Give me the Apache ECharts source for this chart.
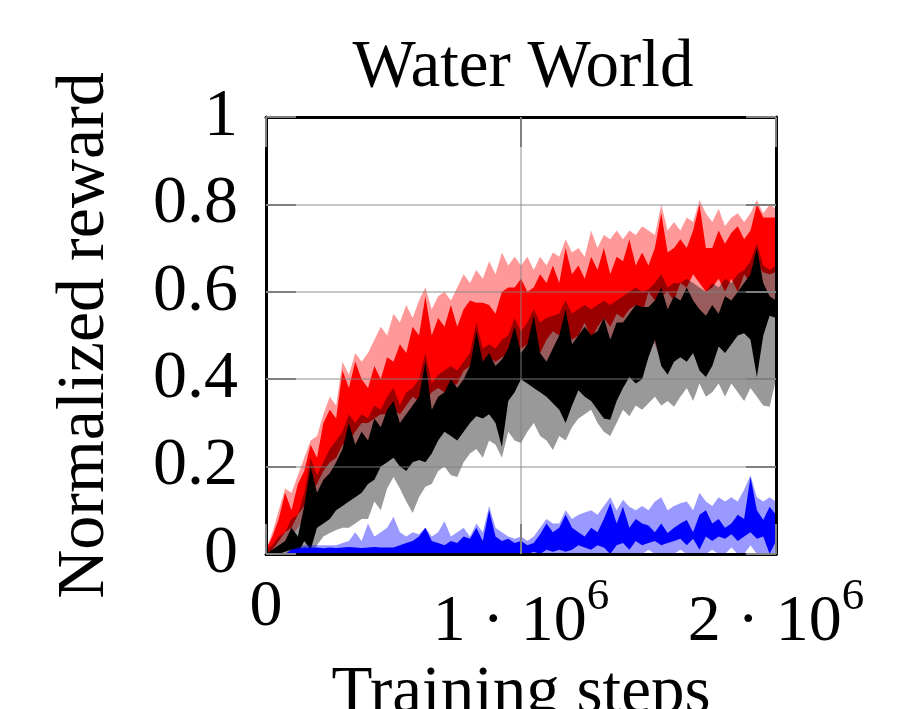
<!DOCTYPE html>
<html>
<head>
<meta charset="utf-8">
<script src="https://cdn.jsdelivr.net/npm/echarts@6/dist/echarts.min.js"></script>
<style>
html,body{margin:0;padding:0;background:#fff;}
#chart{width:907px;height:709px;}
</style>
</head>
<body>
<div id="chart"></div>
<script>
// ---- data ----
const steps = [0,25000,50000,75000,100000,125000,150000,175000,200000,225000,250000,275000,300000,325000,350000,375000,400000,425000,450000,475000,500000,525000,550000,575000,600000,625000,650000,675000,700000,725000,750000,775000,800000,825000,850000,875000,900000,925000,950000,975000,1000000,1025000,1050000,1075000,1100000,1125000,1150000,1175000,1200000,1225000,1250000,1275000,1300000,1325000,1350000,1375000,1400000,1425000,1450000,1475000,1500000,1525000,1550000,1575000,1600000,1625000,1650000,1675000,1700000,1725000,1750000,1775000,1800000,1825000,1850000,1875000,1900000,1925000,1950000,1975000,2000000];

// red method: outer range (light) and inner range (dark)
const redOuterHi = [0.01,0.05,0.10,0.15,0.14,0.18,0.22,0.26,0.27,0.32,
 0.36,0.34,0.44,0.41,0.46,0.44,0.46,0.49,0.52,0.50,
 0.55,0.53,0.57,0.54,0.58,0.61,0.56,0.59,0.60,0.58,
 0.61,0.64,0.62,0.65,0.63,0.67,0.64,0.69,0.66,0.68,
 0.66,0.68,0.65,0.68,0.66,0.69,0.68,0.72,0.69,0.70,
 0.68,0.74,0.70,0.73,0.72,0.74,0.72,0.74,0.73,0.75,
 0.74,0.73,0.80,0.74,0.76,0.74,0.77,0.76,0.81,0.78,
 0.76,0.79,0.75,0.77,0.78,0.76,0.78,0.81,0.78,0.80,
 0.79];
const redInnerHi = [0.01,0.04,0.08,0.14,0.10,0.16,0.19,0.25,0.22,0.30,
 0.33,0.31,0.42,0.38,0.44,0.40,0.38,0.43,0.40,0.45,
 0.44,0.48,0.46,0.52,0.50,0.59,0.50,0.54,0.52,0.57,
 0.52,0.56,0.58,0.575,0.575,0.57,0.55,0.60,0.61,0.61,
 0.63,0.60,0.61,0.64,0.62,0.66,0.62,0.70,0.64,0.66,
 0.63,0.68,0.65,0.70,0.64,0.68,0.67,0.72,0.66,0.69,
 0.66,0.70,0.78,0.69,0.70,0.72,0.70,0.74,0.80,0.70,
 0.70,0.74,0.71,0.735,0.75,0.72,0.74,0.80,0.77,0.77,
 0.77];
const redInnerLo = [0,0.01,0.03,0.05,0.06,0.09,0.11,0.14,0.16,0.19,
 0.21,0.22,0.25,0.26,0.28,0.30,0.30,0.31,0.32,0.32,
 0.33,0.32,0.34,0.36,0.35,0.35,0.37,0.38,0.37,0.38,
 0.39,0.42,0.43,0.44,0.44,0.45,0.44,0.45,0.46,0.45,
 0.47,0.48,0.50,0.46,0.49,0.51,0.50,0.52,0.49,0.50,
 0.53,0.49,0.52,0.54,0.52,0.55,0.54,0.56,0.57,0.55,
 0.60,0.58,0.59,0.60,0.58,0.62,0.61,0.64,0.62,0.60,
 0.61,0.63,0.60,0.63,0.60,0.64,0.62,0.66,0.645,0.64,
 0.645];
const redOuterLo = [0,0,0.02,0.03,0.04,0.06,0.08,0.10,0.12,0.15,
 0.17,0.18,0.20,0.22,0.24,0.25,0.26,0.27,0.27,0.28,
 0.28,0.29,0.30,0.30,0.31,0.30,0.32,0.28,0.30,0.33,
 0.34,0.36,0.37,0.38,0.36,0.40,0.39,0.40,0.41,0.39,
 0.42,0.43,0.44,0.40,0.43,0.41,0.44,0.42,0.45,0.44,
 0.46,0.43,0.46,0.48,0.45,0.47,0.49,0.48,0.50,0.47,
 0.49,0.48,0.44,0.50,0.47,0.52,0.50,0.53,0.52,0.50,
 0.54,0.50,0.53,0.55,0.52,0.56,0.54,0.57,0.55,0.56,
 0.58];

// black method
const blackOuterHi = [0.01,0.02,0.04,0.05,0.08,0.09,0.14,0.22,0.18,0.21,
 0.24,0.26,0.28,0.32,0.30,0.32,0.31,0.34,0.33,0.36,
 0.38,0.34,0.37,0.38,0.40,0.46,0.39,0.41,0.42,0.43,
 0.42,0.44,0.46,0.53,0.47,0.48,0.47,0.49,0.50,0.54,
 0.51,0.53,0.56,0.53,0.54,0.545,0.55,0.58,0.55,0.56,
 0.57,0.56,0.57,0.58,0.57,0.58,0.59,0.60,0.61,0.60,
 0.605,0.62,0.64,0.61,0.62,0.62,0.63,0.62,0.61,0.60,
 0.62,0.61,0.63,0.62,0.64,0.65,0.67,0.71,0.66,0.65,
 0.66];
const blackInnerHi = [0,0.01,0.02,0.03,0.06,0.04,0.11,0.20,0.14,0.17,
 0.185,0.21,0.24,0.30,0.25,0.28,0.26,0.31,0.29,0.33,
 0.35,0.30,0.32,0.34,0.36,0.44,0.33,0.36,0.37,0.40,
 0.38,0.40,0.43,0.51,0.44,0.46,0.43,0.445,0.47,0.52,
 0.46,0.48,0.545,0.46,0.44,0.47,0.50,0.56,0.48,0.50,
 0.52,0.50,0.51,0.54,0.49,0.53,0.53,0.55,0.57,0.565,
 0.565,0.58,0.61,0.56,0.59,0.58,0.61,0.58,0.56,0.545,
 0.57,0.55,0.59,0.58,0.60,0.62,0.64,0.70,0.62,0.59,
 0.58];
const blackInnerLo = [0,0,0,0.005,0.01,0,0.03,0.01,0.06,0.07,
 0.08,0.10,0.11,0.12,0.13,0.14,0.16,0.17,0.20,0.21,
 0.22,0.20,0.19,0.21,0.215,0.21,0.23,0.26,0.28,0.27,
 0.26,0.28,0.30,0.315,0.31,0.32,0.30,0.245,0.35,0.37,
 0.40,0.39,0.38,0.37,0.36,0.345,0.33,0.30,0.34,0.375,
 0.36,0.35,0.33,0.31,0.307,0.35,0.38,0.405,0.39,0.40,
 0.45,0.49,0.43,0.41,0.44,0.45,0.44,0.46,0.42,0.405,
 0.43,0.475,0.46,0.48,0.50,0.505,0.49,0.405,0.50,0.545,
 0.54];
const blackOuterLo = [0,0,0,0,0,0,0,0,0.02,0.04,
 0.048,0.055,0.06,0.06,0.07,0.08,0.08,0.12,0.10,0.15,
 0.176,0.15,0.12,0.094,0.13,0.154,0.16,0.19,0.20,0.18,
 0.176,0.21,0.23,0.24,0.22,0.26,0.25,0.22,0.28,0.26,
 0.254,0.28,0.30,0.27,0.26,0.238,0.27,0.26,0.29,0.31,
 0.32,0.33,0.30,0.28,0.27,0.30,0.33,0.315,0.34,0.33,
 0.345,0.36,0.34,0.35,0.337,0.36,0.38,0.35,0.39,0.36,
 0.37,0.39,0.36,0.39,0.37,0.35,0.38,0.36,0.34,0.337,
 0.40];

// blue method
const blueOuterHi = [0,0,0,0,0.01,0.015,0.02,0.02,0.02,0.02,
 0.02,0.02,0.025,0.03,0.05,0.03,0.07,0.04,0.05,0.06,
 0.085,0.05,0.04,0.05,0.045,0.06,0.04,0.05,0.075,0.04,
 0.05,0.06,0.04,0.07,0.05,0.11,0.06,0.05,0.04,0.035,
 0.04,0.03,0.04,0.06,0.08,0.07,0.07,0.10,0.08,0.09,
 0.095,0.10,0.09,0.11,0.13,0.10,0.124,0.108,0.10,0.11,
 0.10,0.12,0.13,0.10,0.11,0.116,0.12,0.10,0.14,0.12,
 0.11,0.13,0.12,0.13,0.12,0.147,0.18,0.13,0.12,0.13,
 0.12];
const blueInnerHi = [0,0,0,0,0.01,0.012,0.015,0.014,0.015,0.013,
 0.015,0.014,0.015,0.016,0.015,0.014,0.015,0.016,0.015,0.015,
 0.015,0.02,0.025,0.03,0.04,0.06,0.03,0.025,0.02,0.03,
 0.025,0.04,0.035,0.06,0.03,0.10,0.04,0.03,0.035,0.025,
 0.03,0.02,0.025,0.045,0.07,0.05,0.06,0.09,0.06,0.05,
 0.04,0.06,0.05,0.08,0.116,0.07,0.108,0.06,0.08,0.07,
 0.065,0.05,0.07,0.048,0.06,0.07,0.078,0.05,0.09,0.10,
 0.07,0.08,0.06,0.07,0.09,0.08,0.176,0.10,0.078,0.108,
 0.09];
const blueInnerLo = [0,0,0,0,0,0,0,0,0,0,
 0,0,0,0,0,0,0,0,0,0,
 0,0,0,0,0,0,0,0,0,0,
 0,0,0,0,0,0,0,0,0,0,
 0,0,0.005,0,0.01,0.005,0.01,0.005,0.01,0.02,
 0.015,0.01,0.02,0.015,0,0.02,0.025,0.01,0.03,0.02,
 0.025,0.03,0.02,0.025,0.03,0.035,0.02,0.035,0.01,0.04,
 0.03,0.04,0.035,0.045,0.03,0.04,0.05,0.035,0.04,0,
 0.03];
const blueOuterLo = [0,0,0,0,0,0,0,0,0,0,
 0,0,0,0,0,0,0,0,0,0,
 0,0,0,0,0,0,0,0,0,0,
 0,0,0,0,0,0,0,0,0,0,
 0,0,0,0,0,0,0,0,0,0,
 0,0,0,0,0,0,0,0,0,0,
 0.01,0,0,0,0,0.01,0,0,0,0,
 0.01,0,0,0.015,0,0,0.02,0,0,0,
 0];

const yTicks = [0, 0.2, 0.4, 0.6, 0.8, 1];
const xTicks = [0, 1000000, 2000000];

// ---- chart ----
const FONT = "'Liberation Serif','DejaVu Serif',serif";

// each band is one polygon: upper edge left->right, lower edge right->left,
// positioned through the axes' scales with api.coord
function band(lo, hi, color) {
  return {
    type: 'custom', silent: true, clip: true,
    data: [[steps[0], lo[0]]],
    encode: { x: 0, y: 1 },
    renderItem: function (params, api) {
      const pts = [];
      for (let i = 0; i < steps.length; i++) pts.push(api.coord([steps[i], hi[i]]));
      for (let i = steps.length - 1; i >= 0; i--) pts.push(api.coord([steps[i], lo[i]]));
      return { type: 'polygon', shape: { points: pts }, style: { fill: color, stroke: null } };
    }
  };
}

const series = [
  band(redOuterLo, redOuterHi, 'rgba(255,0,0,0.4)'),
  band(redInnerLo, redInnerHi, '#ff0000'),
  band(blackOuterLo, blackOuterHi, 'rgba(0,0,0,0.4)'),
  band(blackInnerLo, blackInnerHi, '#000000'),
  band(blueOuterLo, blueOuterHi, 'rgba(0,0,255,0.4)'),
  band(blueInnerLo, blueInnerHi, '#0000ff')
];

const tickStyle = { show: true, inside: true, length: 30, lineStyle: { color: '#808080', width: 2 } };
const lineStyleAx = { show: true, onZero: false, lineStyle: { color: '#000', width: 3 } };

function xLabel(v) {
  if (v === 0) return '{m|0}';
  return '{m|' + (v / 1000000) + ' \u00B7 10}{s|6}';
}

const chart = echarts.init(document.getElementById('chart'), null, { renderer: 'canvas' });
chart.setOption({
  animation: false,
  backgroundColor: '#fff',
  title: {
    text: 'Water World',
    left: 518, top: 30, textAlign: 'center',
    textStyle: { fontFamily: FONT, fontSize: 67, fontWeight: 'normal', color: '#000' }
  },
  grid: { left: 266, right: 131, top: 117, bottom: 155, containLabel: false, outerBoundsMode: 'none' },
  xAxis: [
    {
      type: 'value', min: xTicks[0], max: xTicks[xTicks.length - 1], interval: xTicks[1] - xTicks[0],
      position: 'bottom', z: 5,
      name: 'Training steps', nameLocation: 'middle', nameGap: 79,
      nameTextStyle: { fontFamily: FONT, fontSize: 67, color: '#000' },
      axisLine: lineStyleAx, axisTick: tickStyle,
      splitLine: { show: true, lineStyle: { color: 'rgba(128,128,128,0.45)', width: 2 } },
      axisLabel: {
        margin: 21, formatter: xLabel, color: '#000',
        rich: {
          m: { fontFamily: FONT, fontSize: 66, color: '#000', verticalAlign: 'bottom' },
          s: { fontFamily: FONT, fontSize: 45, color: '#000', verticalAlign: 'bottom', padding: [0, 0, 36, 0] }
        }
      }
    },
    {
      type: 'value', min: xTicks[0], max: xTicks[xTicks.length - 1], interval: xTicks[1] - xTicks[0],
      position: 'top', z: 5,
      axisLine: lineStyleAx, axisTick: tickStyle,
      splitLine: { show: false }, axisLabel: { show: false }
    }
  ],
  yAxis: [
    {
      type: 'value', min: yTicks[0], max: yTicks[yTicks.length - 1], interval: yTicks[1] - yTicks[0],
      position: 'left', z: 5,
      name: 'Normalized reward', nameLocation: 'middle', nameGap: 147,
      nameTextStyle: { fontFamily: FONT, fontSize: 68, color: '#000' },
      axisLine: lineStyleAx, axisTick: tickStyle,
      splitLine: { show: true, lineStyle: { color: 'rgba(128,128,128,0.45)', width: 2 } },
      axisLabel: { margin: 28, fontFamily: FONT, fontSize: 68, color: '#000' }
    },
    {
      type: 'value', min: yTicks[0], max: yTicks[yTicks.length - 1], interval: yTicks[1] - yTicks[0],
      position: 'right', z: 5,
      axisLine: lineStyleAx, axisTick: tickStyle,
      splitLine: { show: false }, axisLabel: { show: false }
    }
  ],
  series: series
});
</script>
</body>
</html>
